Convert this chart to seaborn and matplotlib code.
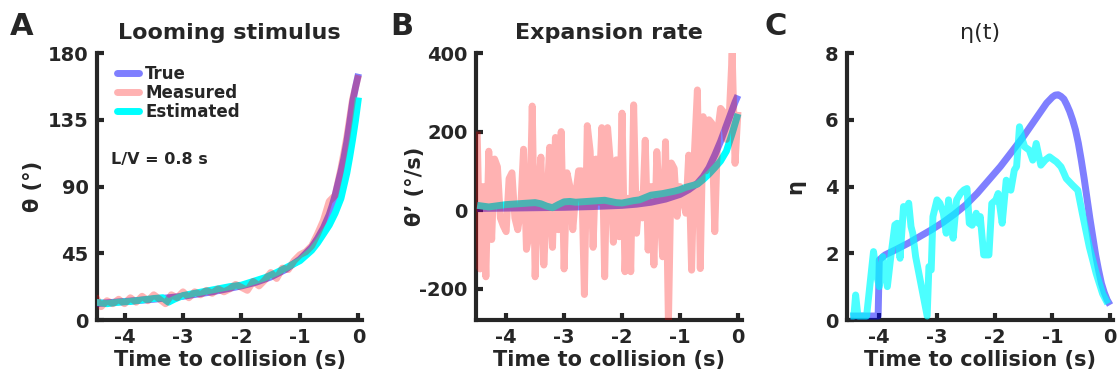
import numpy as np
import pandas as pd
import matplotlib
matplotlib.use("Agg")
import matplotlib.pyplot as plt
import seaborn as sns
from matplotlib.lines import Line2D

# ---------------- data ----------------
# Panel A: looming stimulus angle theta (deg)
tA_true = [-4.5, -4.0, -3.5, -3.0, -2.5, -2.0, -1.75, -1.5, -1.25, -1.0, -0.9, -0.8,
           -0.7, -0.6, -0.5, -0.45, -0.4, -0.35, -0.3, -0.25, -0.2, -0.15, -0.1, -0.05, 0.0]
thA_true = [11, 12.5, 14, 16, 19, 23, 25.5, 29, 34, 41, 45, 49,
            55, 62, 71, 77, 84, 92, 100, 109, 120, 133, 147, 157, 166]

tA_meas = [-4.5, -4.4, -4.3, -4.2, -4.1, -4.0, -3.9, -3.8, -3.7, -3.6, -3.5, -3.4,
           -3.3, -3.2, -3.1, -3.0, -2.9, -2.8, -2.7, -2.6, -2.5, -2.4, -2.3, -2.2,
           -2.1, -2.0, -1.9, -1.8, -1.7, -1.6, -1.5, -1.4, -1.3, -1.2, -1.1, -1.0,
           -0.9, -0.8, -0.7, -0.6, -0.5, -0.4, -0.3, -0.2, -0.1, 0.0]
thA_meas = [16, 9, 13, 11, 14, 11, 15, 12, 16, 13, 17, 14,
            11, 17, 15, 19, 15, 19, 17, 20, 18, 21, 19, 21,
            24, 22, 20, 26, 23, 27, 32, 28, 35, 34, 40, 44,
            46, 50, 58, 67, 80, 84, 102, 123, 149, 165]

tA_est = [-4.5, -4.3, -4.1, -3.9, -3.7, -3.5, -3.35, -3.25, -3.15, -3.0, -2.8, -2.6,
          -2.4, -2.2, -2.0, -1.8, -1.6, -1.4, -1.2, -1.0, -0.8, -0.7, -0.6, -0.5,
          -0.4, -0.3, -0.2, -0.15, -0.1, -0.05, 0.0]
thA_est = [12, 11, 12, 12.5, 13.5, 14.5, 15, 12, 14, 16.5, 18, 19.5,
           21, 22.5, 23.5, 26, 28.5, 32, 36, 40, 47, 52, 58, 64,
           72, 82, 99, 110, 122, 135, 150]

# Panel B: expansion rate theta' (deg/s)
tB_true = [-4.5, -4.0, -3.5, -3.0, -2.5, -2.0, -1.75, -1.5, -1.25, -1.0, -0.85, -0.7,
           -0.6, -0.5, -0.4, -0.3, -0.2, -0.15, -0.1, -0.05, 0.0]
dB_true = [4, 5, 6, 7, 9, 12, 15, 20, 28, 40, 52, 68,
           85, 108, 140, 175, 215, 235, 255, 275, 292]

tB_meas = [-4.50, -4.45, -4.40, -4.35, -4.30, -4.25, -4.20, -4.15, -4.10, -4.05,
           -4.00, -3.95, -3.90, -3.85, -3.80, -3.75, -3.70, -3.65, -3.60, -3.55,
           -3.50, -3.45, -3.40, -3.35, -3.30, -3.25, -3.20, -3.15, -3.10, -3.05,
           -3.00, -2.95, -2.90, -2.85, -2.80, -2.75, -2.70, -2.65, -2.60, -2.55,
           -2.50, -2.45, -2.40, -2.35, -2.30, -2.25, -2.20, -2.15, -2.10, -2.05,
           -2.00, -1.95, -1.90, -1.85, -1.80, -1.75, -1.70, -1.65, -1.60, -1.55,
           -1.50, -1.45, -1.40, -1.35, -1.30, -1.25, -1.20, -1.15, -1.10, -1.05,
           -1.00, -0.95, -0.90, -0.85, -0.80, -0.75, -0.70, -0.65, -0.60, -0.55,
           -0.50, -0.45, -0.40, -0.35, -0.30, -0.25, -0.20, -0.15, -0.10, -0.05, 0.00]
dB_meas = [200, -150, 60, -170, 150, -75, 130, 110, -20, -40,
           -55, 80, 95, -20, -50, 0, 155, -100, -60, 265,
           -170, 40, 135, -140, 10, 160, -95, 185, -50, 200,
           -150, 95, 60, -50, 40, 100, 100, -215, 215, 150,
           -95, 130, 20, 210, -170, 210, 119, -82, 128, -68,
           247, -157, 30, -157, 268, -59, 40, -20, 178, -102,
           60, -140, 149, 20, -119, 174, -290, 120, 106, -16,
           60, 40, -8, 140, -153, 150, 306, -149, 238, 100,
           230, 221, -55, 200, 259, 250, 180, 240, 400, 119, 250]

tB_est = [-4.5, -4.4, -4.3, -4.2, -4.1, -4.0, -3.9, -3.8, -3.7, -3.6, -3.5, -3.4,
          -3.3, -3.2, -3.1, -3.0, -2.9, -2.8, -2.7, -2.6, -2.5, -2.4, -2.3, -2.2,
          -2.1, -2.0, -1.9, -1.8, -1.7, -1.6, -1.5, -1.4, -1.3, -1.2, -1.1, -1.0,
          -0.9, -0.8, -0.7, -0.6, -0.5, -0.4, -0.3, -0.2, -0.1, 0.0]
dB_est = [12, 10, 8, 10, 12, 14, 15, 16, 17, 18, 19, 16,
          10, 6, 14, 21, 22, 20, 21, 22, 23, 24, 25, 22,
          19, 18, 21, 24, 26, 32, 38, 40, 42, 45, 48, 52,
          58, 62, 66, 78, 92, 108, 125, 150, 195, 245]

# Panel C: eta(t)
tC_true = [-4.5, -4.02, -4.0, -3.9, -3.7, -3.5, -3.3, -3.1, -2.9, -2.7, -2.5, -2.3,
           -2.1, -1.9, -1.7, -1.5, -1.3, -1.1, -1.0, -0.95, -0.9, -0.85, -0.8, -0.75,
           -0.7, -0.65, -0.6, -0.55, -0.5, -0.45, -0.4, -0.35, -0.3, -0.25, -0.2,
           -0.15, -0.1, -0.05, 0.0]
etaC_true = [0.12, 0.12, 1.8, 1.95, 2.12, 2.3, 2.5, 2.7, 2.92, 3.17, 3.45, 3.8,
             4.2, 4.6, 5.05, 5.5, 6.0, 6.5, 6.68, 6.74, 6.75, 6.7, 6.62, 6.45,
             6.25, 6.0, 5.7, 5.3, 4.8, 4.25, 3.65, 3.05, 2.5, 1.95, 1.5,
             1.1, 0.82, 0.6, 0.45]

tC_est = [-4.50, -4.44, -4.41, -4.37, -4.22, -4.10, -4.04, -4.00, -3.94, -3.86,
          -3.80, -3.73, -3.69, -3.64, -3.58, -3.53, -3.49, -3.45, -3.42, -3.37,
          -3.17, -3.14, -3.10, -3.07, -3.00, -2.95, -2.89, -2.84, -2.80, -2.76,
          -2.72, -2.66, -2.59, -2.53, -2.48, -2.44, -2.39, -2.32, -2.28, -2.25,
          -2.19, -2.10, -2.05, -1.98, -1.94, -1.87, -1.80, -1.72, -1.66, -1.62,
          -1.57, -1.52, -1.48, -1.40, -1.34, -1.28, -1.20, -1.12, -1.05, -0.98,
          -0.93, -0.85, -0.80, -0.76, -0.65, -0.56, -0.48, -0.36, -0.24, -0.13, -0.04]
etaC_est = [0.12, 0.12, 0.75, 0.12, 0.12, 2.05, 1.3, 1.0, 1.9, 1.0,
            1.9, 2.85, 2.9, 1.85, 3.4, 3.3, 3.5, 2.8, 2.6, 1.9,
            0.12, 1.6, 1.5, 3.1, 3.6, 3.5, 3.2, 2.6, 3.6, 3.0,
            2.45, 3.6, 3.8, 3.9, 3.94, 2.9, 2.84, 3.2, 2.9, 3.1,
            1.95, 1.95, 3.49, 3.6, 3.79, 2.9, 4.19, 3.89, 4.49, 4.6,
            5.79, 5.4, 5.19, 5.09, 4.79, 5.29, 4.64, 4.8, 4.89, 4.8,
            4.74, 4.59, 4.4, 4.24, 4.04, 3.89, 3.19, 2.19, 1.39, 0.79, 0.49]

x_ticks = [-4, -3, -2, -1, 0]
yticks_A = [0, 45, 90, 135, 180]
yticks_B = [-200, 0, 200, 400]
yticks_C = [0, 2, 4, 6, 8]

# ---------------- style ----------------
sns.set_theme(style="ticks")
plt.rcParams["font.family"] = ["DejaVu Sans"]
plt.rcParams["axes.unicode_minus"] = False
INK = "#262626"
plt.rcParams["text.color"] = INK

BLUE = (0, 0, 1)
RED = (1, 0, 0)
CYAN = (0, 1, 1)
LW = 5.0

fig = plt.figure(figsize=(11.19, 3.78), dpi=100)
axA = fig.add_axes([0.0867, 0.1534, 0.2368, 0.7063])
axB = fig.add_axes([0.4254, 0.1534, 0.2377, 0.7063])
axC = fig.add_axes([0.7569, 0.1534, 0.2377, 0.7063])


def draw(ax, t, v, color, alpha, z):
    sns.lineplot(x=t, y=v, ax=ax, color=color, alpha=alpha, lw=LW, zorder=z,
                 sort=False, estimator=None, legend=False,
                 solid_capstyle="butt", solid_joinstyle="round")


def style(ax, xlim, ylim, yticks, ylabel, ycoord, title, tweight="bold"):
    ax.set_xlim(xlim)
    ax.set_ylim(ylim)
    ax.set_xticks(x_ticks)
    ax.set_yticks(yticks)
    for s in ["top", "right"]:
        ax.spines[s].set_visible(False)
    for s in ["left", "bottom"]:
        ax.spines[s].set_linewidth(3)
        ax.spines[s].set_color(INK)
    ax.tick_params(direction="in", length=5, width=3, color=INK, labelsize=14,
                   pad=6, labelcolor=INK)
    for lab in ax.get_xticklabels() + ax.get_yticklabels():
        lab.set_fontweight("bold")
    ax.set_xlabel("Time to collision (s)", fontsize=15, fontweight="bold",
                  labelpad=2, color=INK)
    ax.set_ylabel(ylabel, fontsize=15, fontweight="bold", color=INK)
    ax.yaxis.set_label_coords(ycoord, 0.5)
    ax.set_title(title, fontsize=16, fontweight=tweight, pad=10, color=INK)


# Panel A
draw(axA, tA_true, thA_true, BLUE, 0.5, 3)
draw(axA, tA_est, thA_est, CYAN, 1.0, 3.1)
draw(axA, tA_meas, thA_meas, RED, 0.3, 3.2)
style(axA, (-4.47, 0.06), (0, 180), yticks_A, "θ (°)", -0.205, "Looming stimulus")
handles = [Line2D([], [], color=BLUE, alpha=0.5, lw=5),
           Line2D([], [], color=RED, alpha=0.3, lw=5),
           Line2D([], [], color=CYAN, alpha=1.0, lw=5)]
leg = axA.legend(handles, ["True", "Measured", "Estimated"], loc="upper left",
                 bbox_to_anchor=(0.075, 0.955), frameon=False, borderpad=0,
                 borderaxespad=0, handlelength=1.3, handletextpad=0.4,
                 labelspacing=0.05, prop={"weight": "bold", "size": 12})
for txt in leg.get_texts():
    txt.set_color(INK)
axA.text(0.053, 0.60, "L/V = 0.8 s", transform=axA.transAxes, fontsize=11.5,
         fontweight="bold", va="center", ha="left", color=INK)

# Panel B
draw(axB, tB_true, dB_true, BLUE, 0.5, 3)
draw(axB, tB_est, dB_est, CYAN, 1.0, 3.1)
draw(axB, tB_meas, dB_meas, RED, 0.3, 3.2)
style(axB, (-4.52, 0.07), (-280, 400), yticks_B, "θ’ (°/s)", -0.19, "Expansion rate")

# Panel C
draw(axC, tC_true, etaC_true, BLUE, 0.5, 3)
draw(axC, tC_est, etaC_est, CYAN, 0.7, 3.1)
style(axC, (-4.56, 0.05), (0, 8), yticks_C, "η", -0.158, "η(t)", tweight="normal")

# Panel letters
for x, letter in [(0.009, "A"), (0.3485, "B"), (0.6836, "C")]:
    fig.text(x, 0.968, letter, fontsize=22, fontweight="bold", va="top",
             ha="left", color=INK)

fig.savefig("out.png", dpi=100)
